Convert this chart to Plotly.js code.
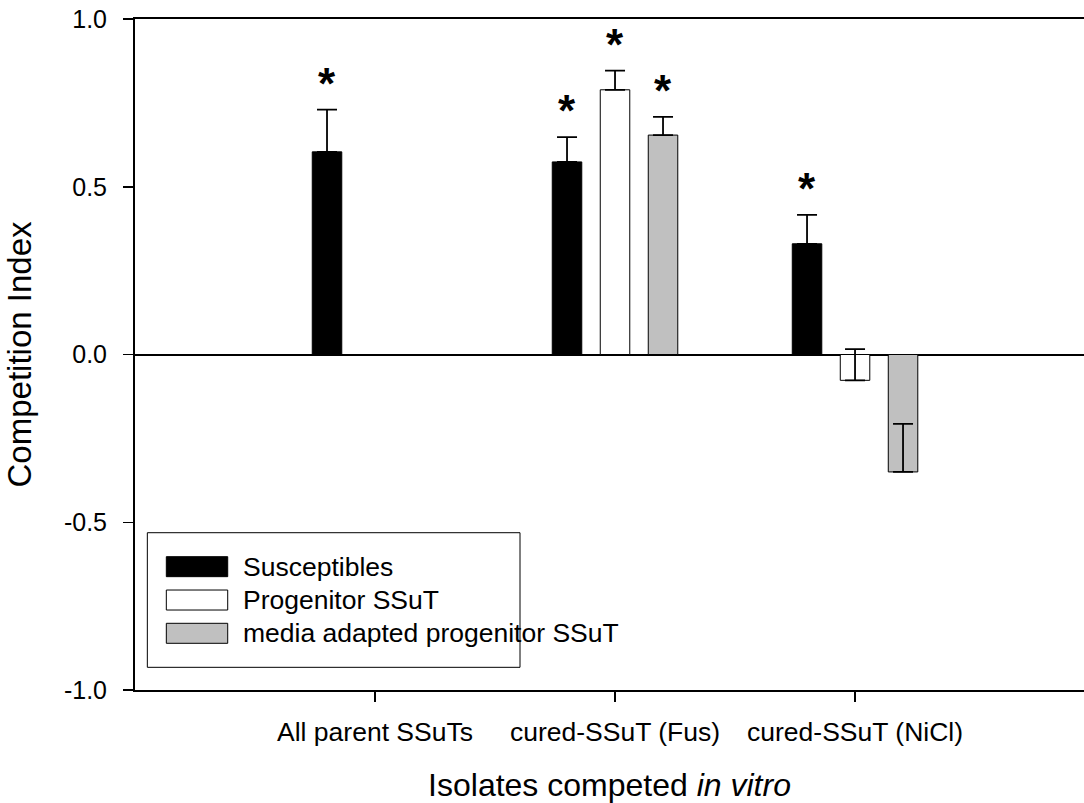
<!DOCTYPE html>
<html>
<head>
<meta charset="utf-8">
<script src="https://cdn.plot.ly/plotly-3.0.1.min.js"></script>
<style>
html, body { margin: 0; padding: 0; background: #ffffff; }
#chart { width: 1084px; height: 803px; }
</style>
</head>
<body>
<div id="chart"></div>
<script>
// ---- data ----
const categories = ['All parent SSuTs', 'cured-SSuT (Fus)', 'cured-SSuT (NiCl)'];
const seriesNames = ['Susceptibles', 'Progenitor SSuT', 'media adapted progenitor SSuT'];
const susceptibles = [0.604, 0.574, 0.330];
const susceptiblesErr = [0.126, 0.074, 0.086];
const progenitor = [null, 0.789, -0.077];
const progenitorErr = [null, 0.057, 0.093];
const mediaAdapted = [null, 0.654, -0.350];
const mediaAdaptedErr = [null, 0.054, 0.143];
const susceptiblesSig = [true, true, true];
const progenitorSig = [false, true, false];
const mediaAdaptedSig = [false, true, false];
const yTickVals = [-1.0, -0.5, 0.0, 0.5, 1.0];
const yTickText = ['-1.0', '-0.5', '0.0', '0.5', '1.0'];

// ---- styling ----
const FONT = 'Liberation Sans, Arial, sans-serif';
const colors = ['#000000', '#ffffff', '#c0c0c0'];
const values = [susceptibles, progenitor, mediaAdapted];
const errors = [susceptiblesErr, progenitorErr, mediaAdaptedErr];
const sigs = [susceptiblesSig, progenitorSig, mediaAdaptedSig];
const BARGAP = 0.4;
const nSeries = values.length;
const slot = (1 - BARGAP) / nSeries;

const traces = values.map((vals, k) => ({
  type: 'bar',
  name: seriesNames[k],
  x: categories,
  y: vals,
  marker: { color: colors[k], line: { color: '#000000', width: 1 } },
  error_y: {
    type: 'data',
    symmetric: false,
    array: errors[k],
    arrayminus: errors[k].map(e => (e === null ? null : 0)),
    color: '#000000',
    thickness: 1.8,
    width: 10
  },
  showlegend: false,
  hoverinfo: 'skip'
}));

// significance asterisks
const annotations = [];
values.forEach((vals, k) => {
  vals.forEach((v, i) => {
    if (v !== null && sigs[k][i]) {
      annotations.push({
        x: i + (k - (nSeries - 1) / 2) * slot,
        y: v + errors[k][i],
        xref: 'x', yref: 'y',
        text: '*',
        showarrow: false,
        yanchor: 'bottom',
        yshift: 0,
        font: { family: FONT, size: 44, color: '#000000', weight: 'bold' }
      });
    }
  });
});

// manual legend (paper coordinates)
const shapes = [];
const legX0 = 0.013, legX1 = 0.4057, legY0 = 0.0338, legY1 = 0.2344;
shapes.push({ type: 'rect', xref: 'paper', yref: 'paper', x0: legX0, x1: legX1, y0: legY0, y1: legY1,
  line: { color: '#000000', width: 1 }, fillcolor: '#ffffff', layer: 'above' });
const rowCenters = [0.1838, 0.1341, 0.0845];
const swH = 0.0298;
seriesNames.forEach((nm, k) => {
  shapes.push({ type: 'rect', xref: 'paper', yref: 'paper', x0: 0.033, x1: 0.0977,
    y0: rowCenters[k] - swH / 2, y1: rowCenters[k] + swH / 2,
    line: { color: '#000000', width: 1 }, fillcolor: colors[k], layer: 'above' });
  annotations.push({ xref: 'paper', yref: 'paper', x: 0.1115, y: rowCenters[k],
    xanchor: 'left', yanchor: 'middle', text: nm, showarrow: false,
    font: { family: FONT, size: 26.5, color: '#000000' } });
});

const layout = {
  width: 1084,
  height: 803,
  margin: { l: 135, r: 0, t: 19, b: 113, pad: 0 },
  paper_bgcolor: '#ffffff',
  plot_bgcolor: '#ffffff',
  barmode: 'group',
  bargap: BARGAP,
  bargroupgap: 0.385,
  font: { family: FONT, color: '#000000' },
  showlegend: false,
  xaxis: {
    type: 'category',
    range: [-1, 2.954],
    showline: true, mirror: true, linecolor: '#000000', linewidth: 2,
    ticks: 'outside', ticklen: 10, tickwidth: 1.5, tickcolor: '#000000',
    ticklabelstandoff: 7,
    showgrid: false, zeroline: false,
    tickfont: { family: FONT, size: 26.5, color: '#000000' },
    title: { text: 'Isolates competed <i>in vitro</i>', font: { family: FONT, size: 32, color: '#000000' }, standoff: 34 },
    fixedrange: true
  },
  yaxis: {
    range: [-1, 1],
    tickvals: yTickVals, ticktext: yTickText,
    showline: true, linecolor: '#000000', linewidth: 2,
    ticks: 'outside', ticklen: 10, tickwidth: 1.5, tickcolor: '#000000',
    ticklabelstandoff: 11,
    showgrid: false,
    zeroline: true, zerolinecolor: '#000000', zerolinewidth: 2,
    tickfont: { family: FONT, size: 25, color: '#000000' },
    title: { text: 'Competition Index', font: { family: FONT, size: 33, color: '#000000' }, standoff: 22 },
    fixedrange: true
  },
  annotations: annotations,
  shapes: shapes
};

Plotly.newPlot('chart', traces, layout, { displayModeBar: false, staticPlot: true });
</script>
</body>
</html>
